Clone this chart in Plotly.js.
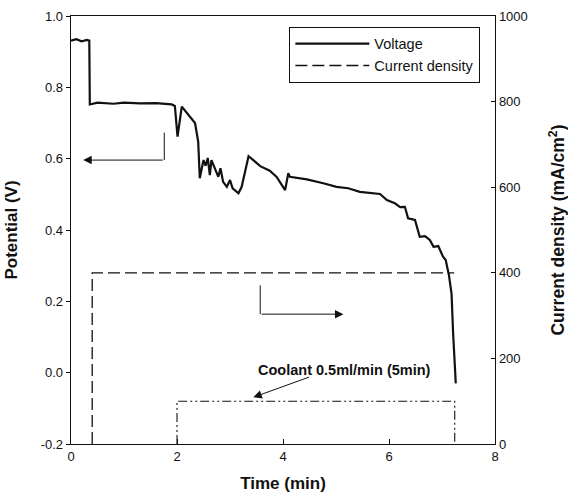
<!DOCTYPE html>
<html>
<head>
<meta charset="utf-8">
<script src="https://cdn.plot.ly/plotly-3.0.1.min.js"></script>
<style>body{margin:0;padding:0;background:#fff;} #chart{width:568px;height:502px;}</style>
</head>
<body>
<div id="chart"></div>
<script>
// Voltage trace (min, V)
var voltTime = [0,0.1,0.2,0.3,0.345,0.35,0.355,0.5,0.8,1.0,1.3,1.6,1.9,1.96,1.99,2.01,2.09,2.2,2.34,2.40,2.43,2.50,2.54,2.58,2.62,2.65,2.72,2.78,2.82,2.87,2.94,3.0,3.05,3.16,3.22,3.28,3.35,3.44,3.57,3.75,3.88,4.04,4.10,4.13,4.45,4.76,5.01,5.23,5.45,5.83,5.96,6.11,6.21,6.30,6.36,6.49,6.58,6.68,6.77,6.84,6.93,7.02,7.07,7.13,7.18,7.21,7.24,7.26];
var voltValue = [0.931,0.935,0.929,0.933,0.931,0.80,0.752,0.757,0.754,0.757,0.755,0.756,0.752,0.748,0.70,0.662,0.746,0.725,0.70,0.648,0.545,0.596,0.580,0.602,0.554,0.596,0.568,0.549,0.573,0.535,0.521,0.540,0.517,0.503,0.521,0.559,0.607,0.596,0.579,0.566,0.549,0.512,0.559,0.549,0.542,0.531,0.521,0.517,0.507,0.501,0.484,0.475,0.464,0.465,0.433,0.428,0.381,0.383,0.372,0.353,0.355,0.325,0.316,0.274,0.222,0.110,0.017,-0.030];
// Current density (min, mA/cm2)
var cdTime = [0.40,0.40,7.23];
var cdValue = [0,400,400];
// Coolant period (min, shown on right axis)
var coolTime = [2.0,2.0,7.24,7.24];
var coolValue = [0,100,100,0];
// Tick labels
var xTickVals = [0,2,4,6,8];
var yTickVals = [-0.2,0.0,0.2,0.4,0.6,0.8,1.0];
var yTickText = ["-0.2","0.0","0.2","0.4","0.6","0.8","1.0"];
var y2TickVals = [0,200,400,600,800,1000];

var font = "Liberation Sans, Arial, sans-serif";

var traces = [
  {x: voltTime, y: voltValue, type: 'scatter', mode: 'lines', name: 'Voltage',
   line: {color: '#111', width: 2.2}, yaxis: 'y'},
  {x: cdTime, y: cdValue, type: 'scatter', mode: 'lines', name: 'Current density',
   line: {color: '#111', width: 1.3, dash: '12px,5px'}, yaxis: 'y2'},
  {x: coolTime, y: coolValue, type: 'scatter', mode: 'lines', name: 'Coolant',
   showlegend: false, line: {color: '#111', width: 1.1, dash: '9px,3px,2px,3px,2px,3px'}, yaxis: 'y2'}
];

var layout = {
  width: 568, height: 502,
  margin: {l: 71, r: 73, t: 16, b: 58},
  paper_bgcolor: '#fff', plot_bgcolor: '#fff',
  font: {family: font, size: 13, color: '#111'},
  showlegend: true,
  legend: {x: 0.515, y: 0.975, xanchor: 'left', yanchor: 'top',
    bordercolor: '#111', borderwidth: 1, bgcolor: '#fff',
    font: {family: font, size: 14.5, color: '#111'}, itemwidth: 74, tracegroupgap: 0},
  xaxis: {range: [0, 8], tickvals: xTickVals, ticks: 'inside', ticklen: 5, tickcolor: '#111',
    showline: true, linecolor: '#111', linewidth: 1.3, mirror: true, showgrid: false, zeroline: false,
    tickfont: {family: font, size: 13},
    title: {text: '<b>Time (min)</b>', font: {family: font, size: 17}, standoff: 14}},
  yaxis: {range: [-0.2, 1.0], tickvals: yTickVals, ticktext: yTickText, ticks: 'outside', ticklen: 4, tickcolor: '#111',
    showline: true, linecolor: '#111', linewidth: 1.3, showgrid: false, zeroline: false,
    tickfont: {family: font, size: 13},
    title: {text: '<b>Potential (V)</b>', font: {family: font, size: 17}, standoff: 18}},
  yaxis2: {range: [0, 1000], tickvals: y2TickVals, overlaying: 'y', side: 'right', ticks: 'inside', ticklen: 4, tickcolor: '#111',
    showline: true, linecolor: '#111', linewidth: 1.3, showgrid: false, zeroline: false,
    tickfont: {family: font, size: 13},
    title: {text: '<b>Current density (mA/cm<sup>2</sup>)</b>', font: {family: font, size: 17.5}, standoff: 26}},
  shapes: [
    {type: 'line', xref: 'x', yref: 'y', x0: 1.76, x1: 1.76, y0: 0.673, y1: 0.596, line: {color: '#111', width: 1}},
    {type: 'line', xref: 'x', yref: 'y', x0: 3.57, x1: 3.57, y0: 0.245, y1: 0.164, line: {color: '#111', width: 1}}
  ],
  annotations: [
    {x: 0.23, y: 0.596, xref: 'x', yref: 'y', ax: 1.76, ay: 0.596, axref: 'x', ayref: 'y',
     text: '', showarrow: true, arrowhead: 2, arrowsize: 1.7, arrowwidth: 1, arrowcolor: '#111'},
    {x: 5.14, y: 0.164, xref: 'x', yref: 'y', ax: 3.57, ay: 0.164, axref: 'x', ayref: 'y',
     text: '', showarrow: true, arrowhead: 2, arrowsize: 1.7, arrowwidth: 1, arrowcolor: '#111'},
    {x: 3.44, y: -0.069, xref: 'x', yref: 'y', ax: 4.52, ay: -0.011, axref: 'x', ayref: 'y',
     text: '', showarrow: true, arrowhead: 2, arrowsize: 1.7, arrowwidth: 1, arrowcolor: '#111'},
    {x: 5.16, y: 0.0075, xref: 'x', yref: 'y', text: '<b>Coolant 0.5ml/min (5min)</b>', showarrow: false,
     font: {family: font, size: 14.5, color: '#111'}, xanchor: 'center', yanchor: 'middle'}
  ]
};

Plotly.newPlot('chart', traces, layout, {displayModeBar: false, staticPlot: true});
</script>
</body>
</html>
